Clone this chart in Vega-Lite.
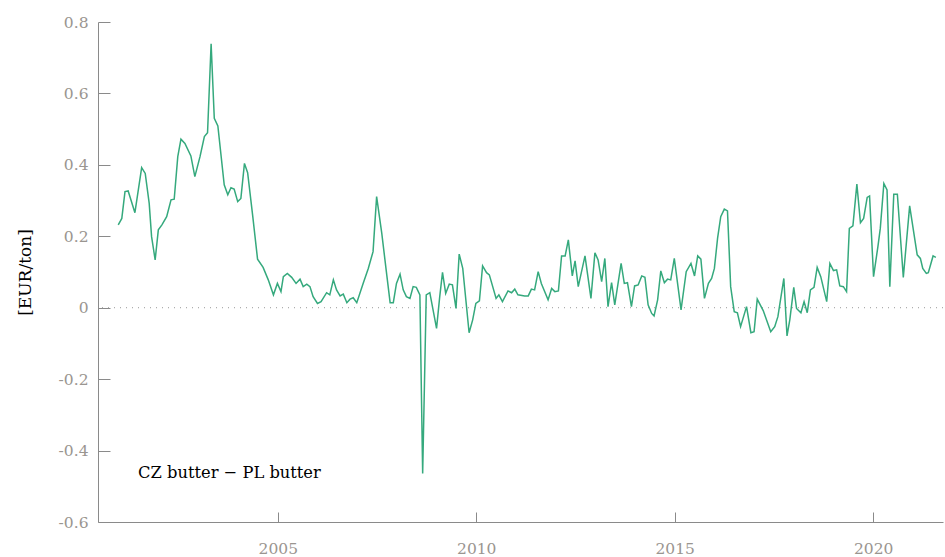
{
  "$schema": "https://vega.github.io/schema/vega-lite/v6.json",
  "width": 845,
  "height": 500,
  "autosize": "none",
  "padding": {"left": 98, "top": 22, "right": 2, "bottom": 35},
  "background": "white",
  "config": {
    "view": {"stroke": null},
    "axis": {
      "grid": false,
      "domainColor": "#8a8a8a",
      "domainWidth": 1,
      "tickColor": "#8a8a8a",
      "tickWidth": 1,
      "labelColor": "#9a9590",
      "labelFont": "DejaVu Serif",
      "labelFontSize": 15.5,
      "titleFont": "DejaVu Serif",
      "titleFontSize": 17,
      "titleFontWeight": "normal",
      "titleColor": "#000000"
    }
  },
  "datasets": {
    "series": [
      {"year": 2000.98, "value": 0.232}, {"year": 2001.07, "value": 0.25}, {"year": 2001.15, "value": 0.325}, {"year": 2001.23, "value": 0.327},
      {"year": 2001.40, "value": 0.266}, {"year": 2001.57, "value": 0.392}, {"year": 2001.66, "value": 0.376}, {"year": 2001.76, "value": 0.292},
      {"year": 2001.82, "value": 0.199}, {"year": 2001.91, "value": 0.134}, {"year": 2001.99, "value": 0.218}, {"year": 2002.08, "value": 0.232},
      {"year": 2002.20, "value": 0.255}, {"year": 2002.31, "value": 0.302}, {"year": 2002.39, "value": 0.304}, {"year": 2002.48, "value": 0.423},
      {"year": 2002.56, "value": 0.472}, {"year": 2002.66, "value": 0.46}, {"year": 2002.81, "value": 0.425}, {"year": 2002.91, "value": 0.367},
      {"year": 2003.04, "value": 0.423}, {"year": 2003.15, "value": 0.479}, {"year": 2003.23, "value": 0.49}, {"year": 2003.32, "value": 0.739},
      {"year": 2003.40, "value": 0.53}, {"year": 2003.49, "value": 0.509}, {"year": 2003.65, "value": 0.344}, {"year": 2003.74, "value": 0.316},
      {"year": 2003.82, "value": 0.336}, {"year": 2003.90, "value": 0.332}, {"year": 2003.99, "value": 0.297}, {"year": 2004.07, "value": 0.306},
      {"year": 2004.16, "value": 0.404}, {"year": 2004.24, "value": 0.378}, {"year": 2004.37, "value": 0.255}, {"year": 2004.49, "value": 0.136},
      {"year": 2004.63, "value": 0.113}, {"year": 2004.76, "value": 0.078}, {"year": 2004.89, "value": 0.036}, {"year": 2004.99, "value": 0.068},
      {"year": 2005.08, "value": 0.045}, {"year": 2005.14, "value": 0.087}, {"year": 2005.24, "value": 0.096}, {"year": 2005.35, "value": 0.085},
      {"year": 2005.46, "value": 0.068}, {"year": 2005.56, "value": 0.08}, {"year": 2005.64, "value": 0.059}, {"year": 2005.73, "value": 0.066},
      {"year": 2005.81, "value": 0.059}, {"year": 2005.89, "value": 0.031}, {"year": 2006.00, "value": 0.012}, {"year": 2006.09, "value": 0.017},
      {"year": 2006.23, "value": 0.042}, {"year": 2006.31, "value": 0.036}, {"year": 2006.40, "value": 0.078}, {"year": 2006.48, "value": 0.05},
      {"year": 2006.57, "value": 0.033}, {"year": 2006.65, "value": 0.038}, {"year": 2006.74, "value": 0.014}, {"year": 2006.82, "value": 0.024},
      {"year": 2006.90, "value": 0.028}, {"year": 2006.99, "value": 0.014}, {"year": 2007.15, "value": 0.068}, {"year": 2007.28, "value": 0.11},
      {"year": 2007.40, "value": 0.157}, {"year": 2007.49, "value": 0.311}, {"year": 2007.62, "value": 0.208}, {"year": 2007.73, "value": 0.106},
      {"year": 2007.83, "value": 0.014}, {"year": 2007.91, "value": 0.014}, {"year": 2007.99, "value": 0.068}, {"year": 2008.08, "value": 0.094},
      {"year": 2008.16, "value": 0.05}, {"year": 2008.24, "value": 0.031}, {"year": 2008.33, "value": 0.026}, {"year": 2008.41, "value": 0.059},
      {"year": 2008.49, "value": 0.057}, {"year": 2008.58, "value": 0.036}, {"year": 2008.65, "value": -0.464}, {"year": 2008.74, "value": 0.036},
      {"year": 2008.83, "value": 0.042}, {"year": 2009.00, "value": -0.058}, {"year": 2009.08, "value": 0.031}, {"year": 2009.15, "value": 0.099},
      {"year": 2009.23, "value": 0.04}, {"year": 2009.32, "value": 0.066}, {"year": 2009.40, "value": 0.064}, {"year": 2009.49, "value": -0.002},
      {"year": 2009.57, "value": 0.15}, {"year": 2009.66, "value": 0.11}, {"year": 2009.82, "value": -0.07}, {"year": 2009.91, "value": -0.034},
      {"year": 2009.99, "value": 0.012}, {"year": 2010.08, "value": 0.019}, {"year": 2010.16, "value": 0.117}, {"year": 2010.26, "value": 0.098},
      {"year": 2010.33, "value": 0.092}, {"year": 2010.50, "value": 0.026}, {"year": 2010.57, "value": 0.036}, {"year": 2010.66, "value": 0.017},
      {"year": 2010.80, "value": 0.047}, {"year": 2010.89, "value": 0.042}, {"year": 2010.97, "value": 0.052}, {"year": 2011.05, "value": 0.036},
      {"year": 2011.22, "value": 0.033}, {"year": 2011.31, "value": 0.033}, {"year": 2011.39, "value": 0.052}, {"year": 2011.47, "value": 0.05},
      {"year": 2011.56, "value": 0.101}, {"year": 2011.64, "value": 0.068}, {"year": 2011.81, "value": 0.022}, {"year": 2011.90, "value": 0.054},
      {"year": 2011.98, "value": 0.045}, {"year": 2012.07, "value": 0.047}, {"year": 2012.15, "value": 0.145}, {"year": 2012.24, "value": 0.145},
      {"year": 2012.32, "value": 0.19}, {"year": 2012.42, "value": 0.089}, {"year": 2012.49, "value": 0.131}, {"year": 2012.57, "value": 0.059},
      {"year": 2012.74, "value": 0.145}, {"year": 2012.89, "value": 0.026}, {"year": 2012.99, "value": 0.154}, {"year": 2013.07, "value": 0.134},
      {"year": 2013.16, "value": 0.073}, {"year": 2013.24, "value": 0.138}, {"year": 2013.32, "value": 0.003}, {"year": 2013.41, "value": 0.07},
      {"year": 2013.49, "value": 0.008}, {"year": 2013.65, "value": 0.124}, {"year": 2013.73, "value": 0.068}, {"year": 2013.81, "value": 0.07},
      {"year": 2013.91, "value": 0.003}, {"year": 2013.99, "value": 0.061}, {"year": 2014.08, "value": 0.064}, {"year": 2014.17, "value": 0.089},
      {"year": 2014.25, "value": 0.085}, {"year": 2014.33, "value": 0.008}, {"year": 2014.42, "value": -0.016}, {"year": 2014.48, "value": -0.023},
      {"year": 2014.57, "value": 0.022}, {"year": 2014.65, "value": 0.103}, {"year": 2014.74, "value": 0.07}, {"year": 2014.82, "value": 0.08},
      {"year": 2014.90, "value": 0.078}, {"year": 2014.99, "value": 0.138}, {"year": 2015.16, "value": -0.006}, {"year": 2015.29, "value": 0.101},
      {"year": 2015.41, "value": 0.124}, {"year": 2015.50, "value": 0.089}, {"year": 2015.58, "value": 0.145}, {"year": 2015.66, "value": 0.136},
      {"year": 2015.75, "value": 0.026}, {"year": 2015.85, "value": 0.068}, {"year": 2015.93, "value": 0.082}, {"year": 2016.00, "value": 0.11},
      {"year": 2016.08, "value": 0.194}, {"year": 2016.16, "value": 0.255}, {"year": 2016.25, "value": 0.276}, {"year": 2016.33, "value": 0.271},
      {"year": 2016.41, "value": 0.059}, {"year": 2016.50, "value": -0.011}, {"year": 2016.58, "value": -0.014}, {"year": 2016.66, "value": -0.053},
      {"year": 2016.81, "value": 0.003}, {"year": 2016.92, "value": -0.07}, {"year": 2017.00, "value": -0.067}, {"year": 2017.08, "value": 0.024},
      {"year": 2017.23, "value": -0.008}, {"year": 2017.42, "value": -0.067}, {"year": 2017.52, "value": -0.053}, {"year": 2017.60, "value": -0.025},
      {"year": 2017.75, "value": 0.082}, {"year": 2017.83, "value": -0.079}, {"year": 2017.90, "value": -0.034}, {"year": 2018.00, "value": 0.057},
      {"year": 2018.07, "value": -0.002}, {"year": 2018.18, "value": -0.014}, {"year": 2018.26, "value": 0.017}, {"year": 2018.34, "value": -0.014},
      {"year": 2018.42, "value": 0.05}, {"year": 2018.51, "value": 0.057}, {"year": 2018.59, "value": 0.113}, {"year": 2018.68, "value": 0.087},
      {"year": 2018.83, "value": 0.017}, {"year": 2018.91, "value": 0.124}, {"year": 2019.00, "value": 0.104}, {"year": 2019.08, "value": 0.106},
      {"year": 2019.16, "value": 0.061}, {"year": 2019.25, "value": 0.059}, {"year": 2019.33, "value": 0.045}, {"year": 2019.40, "value": 0.222},
      {"year": 2019.49, "value": 0.229}, {"year": 2019.59, "value": 0.346}, {"year": 2019.68, "value": 0.238}, {"year": 2019.76, "value": 0.25},
      {"year": 2019.85, "value": 0.309}, {"year": 2019.91, "value": 0.313}, {"year": 2020.01, "value": 0.087}, {"year": 2020.12, "value": 0.171},
      {"year": 2020.18, "value": 0.222}, {"year": 2020.27, "value": 0.348}, {"year": 2020.35, "value": 0.33}, {"year": 2020.42, "value": 0.059},
      {"year": 2020.52, "value": 0.318}, {"year": 2020.61, "value": 0.318}, {"year": 2020.76, "value": 0.085}, {"year": 2020.92, "value": 0.285},
      {"year": 2021.11, "value": 0.148}, {"year": 2021.19, "value": 0.138}, {"year": 2021.25, "value": 0.11}, {"year": 2021.34, "value": 0.096},
      {"year": 2021.39, "value": 0.098}, {"year": 2021.51, "value": 0.145}, {"year": 2021.58, "value": 0.141}
    ],
    "zero": [{"value": 0}],
    "note": [{"year": 2001.48, "value": -0.463, "label": "CZ butter − PL butter"}]
  },
  "layer": [
    {
      "data": {"name": "zero"},
      "mark": {"type": "rule", "stroke": "#9a9a9a", "strokeWidth": 1, "strokeDash": [1, 5]},
      "encoding": {
        "y": {"field": "value", "type": "quantitative", "scale": {"domain": [-0.6, 0.8]}}
      }
    },
    {
      "data": {"name": "series"},
      "mark": {"type": "line", "stroke": "#35a97d", "strokeWidth": 1.5, "interpolate": "linear"},
      "encoding": {
        "x": {
          "field": "year", "type": "quantitative",
          "scale": {"domain": [2000.47, 2021.76], "nice": false, "zero": false},
          "axis": {"title": null, "values": [2005, 2010, 2015, 2020], "format": "d", "tickSize": -10, "labelPadding": 29, "labelFlush": false}
        },
        "y": {
          "field": "value", "type": "quantitative",
          "scale": {"domain": [-0.6, 0.8], "nice": false},
          "axis": {
            "title": "[EUR/ton]",
            "values": [-0.6, -0.4, -0.2, 0, 0.2, 0.4, 0.6, 0.8],
            "labelExpr": "datum.value == 0 ? '0' : (datum.value < 0 ? '-' : '') + format(abs(datum.value), '.1f')",
            "tickSize": -12,
            "labelPadding": 22,
            "titlePadding": 24,
            "labelFlush": false
          }
        }
      }
    },
    {
      "data": {"name": "note"},
      "mark": {"type": "text", "align": "left", "baseline": "middle", "font": "DejaVu Serif", "fontSize": 16.3, "color": "#000000"},
      "encoding": {
        "x": {"field": "year", "type": "quantitative"},
        "y": {"field": "value", "type": "quantitative"},
        "text": {"field": "label"}
      }
    }
  ]
}
